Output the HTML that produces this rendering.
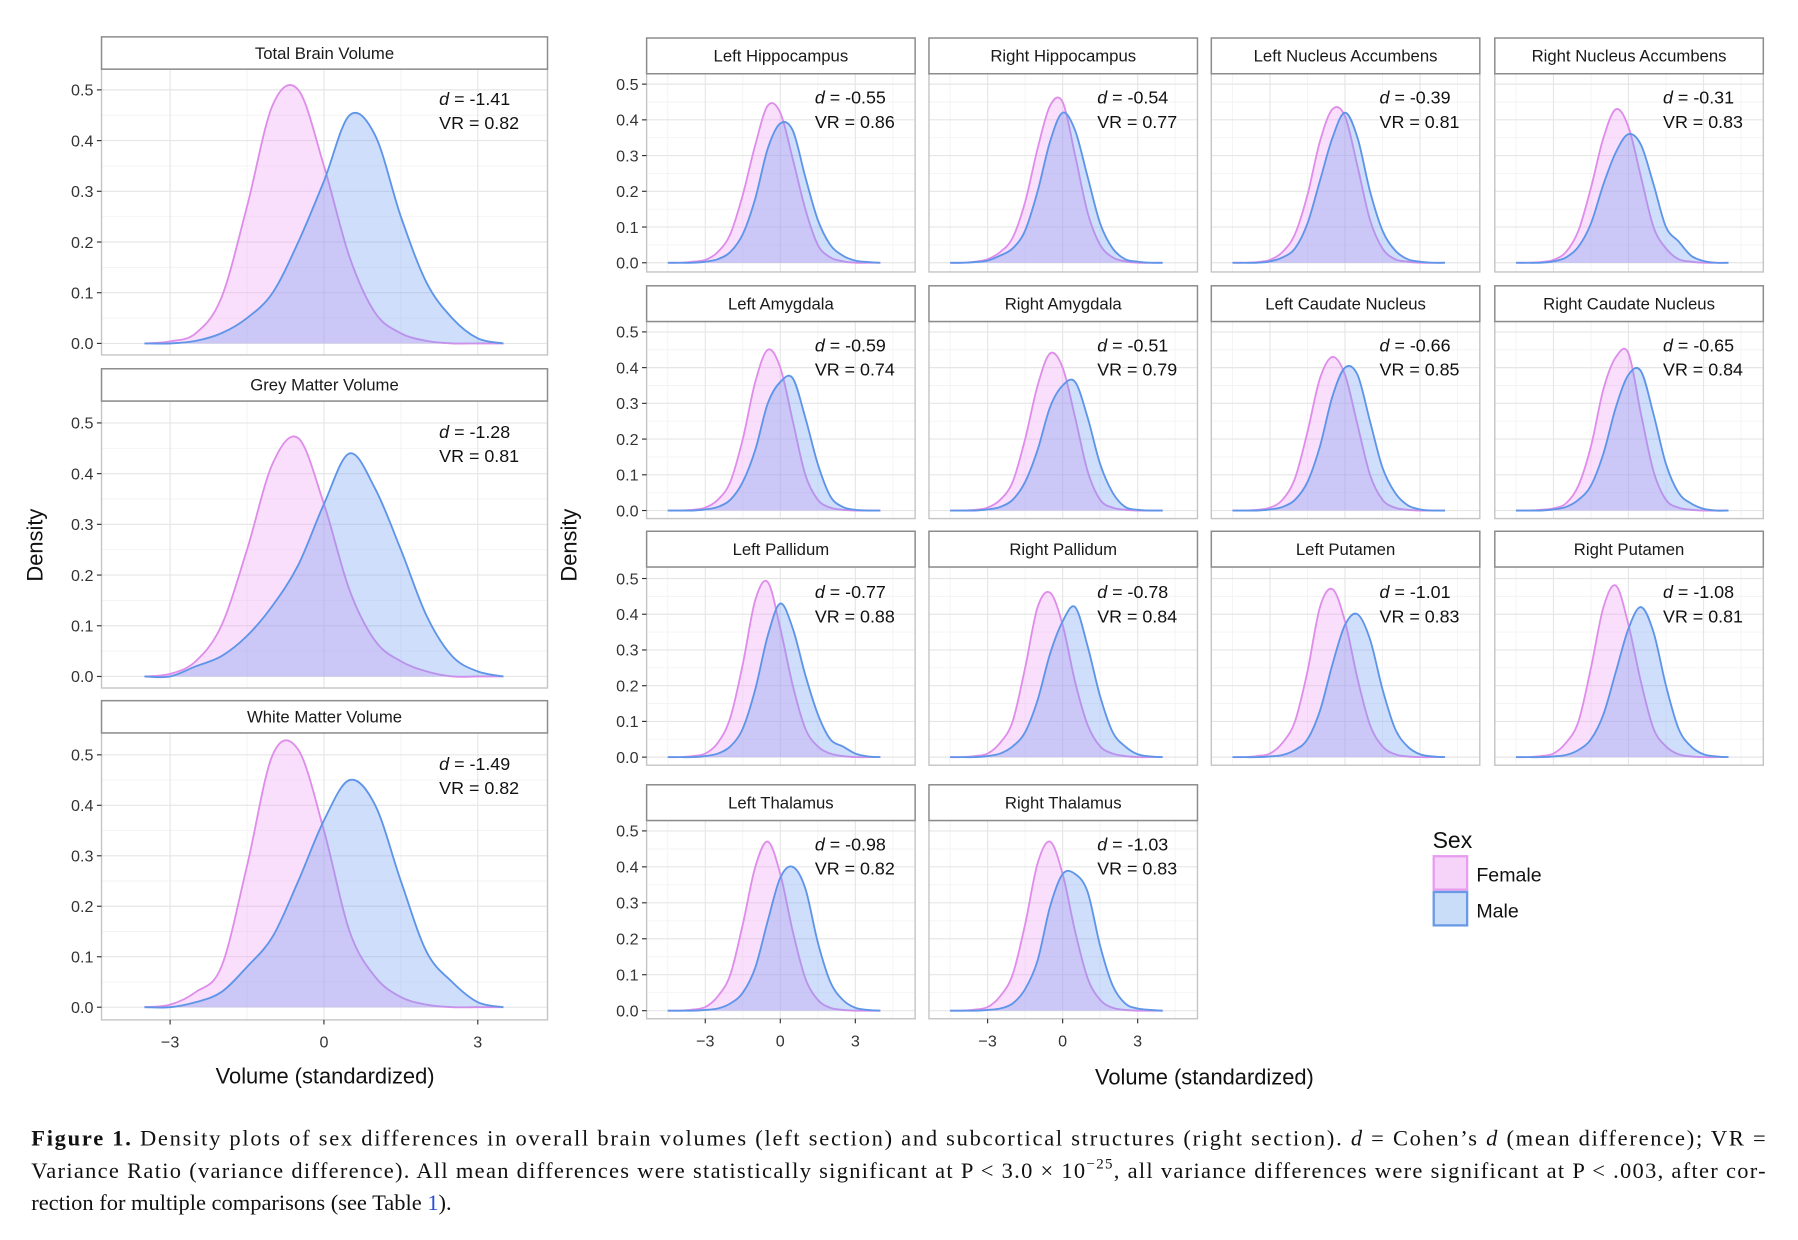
<!DOCTYPE html>
<html><head><meta charset="utf-8">
<style>
html,body{margin:0;padding:0;background:#fff;}
svg{display:block;}
.strip{font-family:"Liberation Sans",sans-serif;font-size:14.5px;fill:#1a1a1a;}
.tick{font-family:"Liberation Sans",sans-serif;font-size:14px;fill:#333;}
.ann{font-family:"Liberation Sans",sans-serif;font-size:15.5px;fill:#111;}
.axt{font-family:"Liberation Sans",sans-serif;font-size:19px;fill:#111;}
.cap{font-family:"Liberation Serif",serif;font-size:19.5px;fill:#111;}
</style></head>
<body>
<svg id="fig" width="1798" height="1240" viewBox="0 0 1560 1076" xmlns="http://www.w3.org/2000/svg">
<g id="panels"></g>
<text class="axt" x="37" y="473" text-anchor="middle" transform="rotate(-90 37 473)">Density</text>
<text class="axt" x="500" y="473" text-anchor="middle" transform="rotate(-90 500 473)">Density</text>
<text class="axt" x="282" y="940" text-anchor="middle">Volume (standardized)</text>
<text class="axt" x="1045" y="941" text-anchor="middle">Volume (standardized)</text>
<g>
<text x="1243" y="736" style="font-family:'Liberation Sans',sans-serif;font-size:20px;fill:#111">Sex</text>
<rect x="1244" y="743" width="29" height="29" fill="#f6d3f8" stroke="#e79cef" stroke-width="2"/>
<rect x="1244" y="774" width="29" height="29" fill="#c9dcf8" stroke="#6a9ae6" stroke-width="2"/>
<text x="1281" y="765" style="font-family:'Liberation Sans',sans-serif;font-size:17px;fill:#111">Female</text>
<text x="1281" y="796" style="font-family:'Liberation Sans',sans-serif;font-size:17px;fill:#111">Male</text>
</g>
<g>
<text class="cap" x="27" y="994" textLength="1505" lengthAdjust="spacing"><tspan font-weight="bold">Figure 1.</tspan> Density plots of sex differences in overall brain volumes (left section) and subcortical structures (right section). <tspan font-style="italic">d</tspan> = Cohen’s <tspan font-style="italic">d</tspan> (mean difference); VR =</text>
<text class="cap" x="27" y="1022" textLength="1505" lengthAdjust="spacing">Variance Ratio (variance difference). All mean differences were statistically significant at P &lt; 3.0 × 10<tspan dy="-8" font-size="13">−25</tspan><tspan dy="8">, all variance differences were significant at P &lt; .003, after cor-</tspan></text>
<text class="cap" x="27" y="1050">rection for multiple comparisons (see Table <tspan fill="#2a4fd6">1</tspan>).</text>
</g>
</svg>
<script>
// ---- data ----
const xsLeft = [-3.5,-3,-2.5,-2,-1.5,-1,-0.5,0,0.5,1,1.5,2,2.5,3,3.5];
const xsRight = [-4.5,-4,-3.5,-3,-2.5,-2,-1.5,-1,-0.5,0,0.5,1,1.5,2,2.5,3,3.5,4];
const xTicks = [-3,0,3];
const yTicks = [0,0.1,0.2,0.3,0.4,0.5];
const yTickLabels = ["0.0","0.1","0.2","0.3","0.4","0.5"];
const leftTitles = ["Total Brain Volume","Grey Matter Volume","White Matter Volume"];
const leftD = ["-1.41","-1.28","-1.49"];
const leftVR = ["0.82","0.81","0.82"];
const leftFemale = [
 [0,0.004,0.02,0.09,0.27,0.47,0.50,0.35,0.17,0.06,0.02,0.005,0,0,0],
 [0,0.005,0.03,0.10,0.25,0.42,0.47,0.34,0.17,0.07,0.03,0.01,0,0,0],
 [0,0.005,0.03,0.08,0.28,0.50,0.51,0.35,0.15,0.06,0.02,0.005,0,0,0]];
const leftMale = [
 [0,0,0.005,0.02,0.05,0.10,0.20,0.32,0.45,0.41,0.25,0.12,0.05,0.01,0],
 [0,0,0.02,0.04,0.08,0.14,0.22,0.34,0.44,0.37,0.25,0.12,0.04,0.01,0],
 [0,0,0.01,0.03,0.08,0.14,0.25,0.37,0.45,0.40,0.25,0.11,0.05,0.01,0]];
const rightTitles = ["Left Hippocampus","Right Hippocampus","Left Nucleus Accumbens","Right Nucleus Accumbens",
 "Left Amygdala","Right Amygdala","Left Caudate Nucleus","Right Caudate Nucleus",
 "Left Pallidum","Right Pallidum","Left Putamen","Right Putamen","Left Thalamus","Right Thalamus"];
const rightD = ["-0.55","-0.54","-0.39","-0.31","-0.59","-0.51","-0.66","-0.65","-0.77","-0.78","-1.01","-1.08","-0.98","-1.03"];
const rightVR = ["0.86","0.77","0.81","0.83","0.74","0.79","0.85","0.84","0.88","0.84","0.83","0.81","0.82","0.83"];
const rightFemale = [
 [0,0,0.003,0.008,0.03,0.08,0.19,0.33,0.44,0.42,0.29,0.15,0.05,0.015,0.004,0,0,0],
 [0,0,0.003,0.01,0.03,0.07,0.17,0.32,0.44,0.45,0.30,0.14,0.05,0.015,0.004,0,0,0],
 [0,0,0.002,0.008,0.03,0.08,0.19,0.34,0.43,0.41,0.27,0.12,0.04,0.01,0.003,0,0,0],
 [0,0,0.002,0.008,0.03,0.09,0.21,0.35,0.43,0.38,0.24,0.10,0.04,0.01,0.003,0,0,0],
 [0,0,0.002,0.008,0.03,0.08,0.20,0.36,0.45,0.40,0.25,0.10,0.03,0.008,0.002,0,0,0],
 [0,0,0.002,0.008,0.03,0.08,0.20,0.35,0.44,0.40,0.26,0.11,0.03,0.008,0.002,0,0,0],
 [0,0,0.002,0.008,0.03,0.09,0.22,0.37,0.43,0.38,0.24,0.10,0.03,0.008,0.002,0,0,0],
 [0,0,0.002,0.006,0.02,0.07,0.18,0.34,0.43,0.44,0.27,0.11,0.03,0.008,0.002,0,0,0],
 [0,0,0.003,0.01,0.04,0.11,0.26,0.44,0.49,0.36,0.20,0.08,0.03,0.01,0.003,0,0,0],
 [0,0,0.003,0.01,0.04,0.10,0.25,0.42,0.46,0.37,0.21,0.09,0.03,0.01,0.003,0,0,0],
 [0,0,0.003,0.01,0.04,0.10,0.24,0.42,0.47,0.38,0.22,0.09,0.03,0.008,0.002,0,0,0],
 [0,0,0.003,0.01,0.04,0.10,0.25,0.42,0.48,0.37,0.21,0.08,0.03,0.008,0.002,0,0,0],
 [0,0,0.003,0.01,0.04,0.10,0.24,0.40,0.47,0.38,0.22,0.09,0.03,0.008,0.002,0,0,0],
 [0,0,0.003,0.01,0.04,0.10,0.24,0.41,0.47,0.38,0.22,0.09,0.03,0.008,0.002,0,0,0]];
const rightMale = [
 [0,0,0,0.003,0.01,0.03,0.08,0.18,0.32,0.39,0.37,0.24,0.12,0.05,0.02,0.006,0.002,0],
 [0,0,0.002,0.006,0.02,0.04,0.09,0.20,0.34,0.42,0.37,0.24,0.11,0.04,0.01,0.003,0,0],
 [0,0,0,0.004,0.015,0.04,0.11,0.23,0.35,0.42,0.35,0.20,0.09,0.035,0.01,0.003,0,0],
 [0,0,0,0.004,0.015,0.045,0.11,0.22,0.31,0.36,0.33,0.22,0.10,0.06,0.02,0.005,0,0],
 [0,0,0,0.003,0.01,0.03,0.08,0.17,0.30,0.36,0.37,0.26,0.13,0.04,0.01,0.002,0,0],
 [0,0,0,0.003,0.01,0.03,0.08,0.17,0.29,0.35,0.36,0.26,0.13,0.05,0.01,0.002,0,0],
 [0,0,0,0.003,0.01,0.03,0.08,0.18,0.32,0.40,0.38,0.25,0.12,0.05,0.015,0.003,0,0],
 [0,0,0,0.003,0.01,0.03,0.07,0.16,0.29,0.38,0.39,0.27,0.13,0.05,0.02,0.005,0,0],
 [0,0,0,0.003,0.01,0.03,0.08,0.19,0.34,0.43,0.36,0.23,0.12,0.05,0.03,0.01,0.002,0],
 [0,0,0,0.003,0.01,0.03,0.07,0.16,0.29,0.38,0.42,0.31,0.17,0.07,0.03,0.008,0.002,0],
 [0,0,0,0.002,0.006,0.02,0.05,0.13,0.26,0.37,0.40,0.33,0.19,0.08,0.03,0.008,0.002,0],
 [0,0,0,0.002,0.006,0.02,0.05,0.12,0.24,0.36,0.42,0.35,0.20,0.08,0.03,0.008,0.002,0],
 [0,0,0,0.002,0.006,0.02,0.05,0.12,0.25,0.37,0.40,0.34,0.19,0.08,0.03,0.008,0.002,0],
 [0,0,0,0.002,0.006,0.02,0.06,0.14,0.29,0.38,0.38,0.33,0.18,0.07,0.02,0.006,0.002,0]];

// ---- drawing ----
const NS = "http://www.w3.org/2000/svg";
const root = document.getElementById('panels');
function mk(tag, attrs, parent){const e=document.createElementNS(NS,tag);for(const k in attrs)e.setAttribute(k,attrs[k]);(parent||root).appendChild(e);return e;}
function smoothPath(pts){
  let d="M"+pts[0][0].toFixed(2)+","+pts[0][1].toFixed(2);
  for(let i=0;i<pts.length-1;i++){
    const p0=pts[Math.max(0,i-1)],p1=pts[i],p2=pts[i+1],p3=pts[Math.min(pts.length-1,i+2)];
    const c1x=p1[0]+(p2[0]-p0[0])/6,c1y=p1[1]+(p2[1]-p0[1])/6;
    const c2x=p2[0]-(p3[0]-p1[0])/6,c2y=p2[1]-(p3[1]-p1[1])/6;
    d+=" C"+c1x.toFixed(2)+","+Math.min(c1y,999).toFixed(2)+" "+c2x.toFixed(2)+","+c2y.toFixed(2)+" "+p2[0].toFixed(2)+","+p2[1].toFixed(2);
  }
  return d;
}
function panel(o){
  // o: left, stripTop, stripH, panelBottom, zeroX, unitX, y0, y05, title, xs, fem, male, d, vr, annX, showX, showY, idx
  const g=mk('g',{});
  
  
  const top=o.stripTop+o.stripH, w=o.width;
  const sx=v=>o.zeroX+v*o.unitX;
  const sy=v=>o.y0-(v/0.5)*(o.y0-o.y05);
  mk('rect',{x:o.left,y:top,width:w,height:o.panelBottom-top,fill:'#fff',stroke:'none'},g);
  // grid
  const clip='clip-'+o.slug;
  const cp=mk('clipPath',{id:clip},g);mk('rect',{x:o.left,y:top,width:w,height:o.panelBottom-top},cp);
  const gg=mk('g',{'clip-path':'url(#'+clip+')'},g);
  for(let v=0.05;v<0.56;v+=0.1)mk('line',{x1:o.left,x2:o.left+w,y1:sy(v),y2:sy(v),stroke:'#f3f3f3','stroke-width':0.8},gg);
  [-4.5,-1.5,1.5,4.5].forEach(v=>mk('line',{x1:sx(v),x2:sx(v),y1:top,y2:o.panelBottom,stroke:'#f3f3f3','stroke-width':0.8},gg));
  yTicks.forEach(v=>mk('line',{x1:o.left,x2:o.left+w,y1:sy(v),y2:sy(v),stroke:'#e6e6e6','stroke-width':1},gg));
  xTicks.forEach(v=>mk('line',{x1:sx(v),x2:sx(v),y1:top,y2:o.panelBottom,stroke:'#e6e6e6','stroke-width':1},gg));
  // series
  [[o.fem,'rgba(238,150,245,0.30)','#de8eea','female'],[o.male,'rgba(110,155,240,0.33)','#5e95e8','male']].forEach(s=>{
    const pts=o.xs.map((x,i)=>[sx(x),sy(s[0][i])]);
    const line=smoothPath(pts);
    const area=mk('path',{d:line+" L"+pts[pts.length-1][0]+","+sy(0)+" L"+pts[0][0]+","+sy(0)+" Z",fill:s[1],stroke:'none'},gg);
    
    
    const ln=mk('path',{d:line,fill:'none',stroke:s[2],'stroke-width':1.6},gg);
    
    
  });
  mk('rect',{x:o.left,y:top,width:w,height:o.panelBottom-top,fill:'none',stroke:'#c4c4c4','stroke-width':1.2},g);
  // strip
  const st=mk('rect',{x:o.left,y:o.stripTop,width:w,height:o.stripH,fill:'#fff',stroke:'#8c8c8c','stroke-width':1.3},g);
  
  
  const tt=mk('text',{class:'strip',x:o.left+w/2,y:o.stripTop+o.stripH/2+5,'text-anchor':'middle'},g);
  tt.textContent=o.title;
  
  
  // annotation
  const a1=mk('text',{class:'ann',x:o.annX,y:o.annY},g);
  a1.innerHTML='<tspan font-style="italic">d</tspan> = '+o.d;
  
  
  const a2=mk('text',{class:'ann',x:o.annX,y:o.annY+21},g);
  a2.textContent='VR = '+o.vr;
  
  
  if(o.showY){
    yTicks.forEach((v,i)=>{
      mk('line',{x1:o.left-4,x2:o.left,y1:sy(v),y2:sy(v),stroke:'#333','stroke-width':1},g);
      const t=mk('text',{class:'tick',x:o.left-7,y:sy(v)+5,'text-anchor':'end'},g);
      t.textContent=yTickLabels[i];
      
      
    });
  }
  if(o.showX){
    xTicks.forEach(v=>{
      mk('line',{x1:sx(v),x2:sx(v),y1:o.panelBottom,y2:o.panelBottom+4,stroke:'#333','stroke-width':1},g);
      const t=mk('text',{class:'tick',x:sx(v),y:o.panelBottom+24,'text-anchor':'middle'},g);
      t.textContent=(v<0?'−':'')+Math.abs(v);
      
      
    });
  }
}
const slug=s=>s.toLowerCase().replace(/\s+/g,'-');
const leftRows=[{st:32,y05:78,y0:298,pb:308},{st:320,y05:367,y0:587,pb:597},{st:608,y05:655,y0:874,pb:885}];
leftRows.forEach((r,i)=>panel({slug:slug(leftTitles[i]),left:88,width:387,stripTop:r.st,stripH:28,panelBottom:r.pb,zeroX:281,unitX:44.5,y0:r.y0,y05:r.y05,
  title:leftTitles[i],xs:xsLeft,fem:leftFemale[i],male:leftMale[i],d:leftD[i],vr:leftVR[i],annX:381,annY:r.y05+13,showX:i==2,showY:true}));
const colL=[561,806,1051,1297];
const rRows=[{st:33,y05:73,y0:228,pb:236},{st:248,y05:288,y0:443,pb:450},{st:461,y05:502,y0:657,pb:664},{st:681,y05:721,y0:877,pb:884}];
rightTitles.forEach((t,k)=>{
  const r=rRows[Math.floor(k/4)],c=k%4,L=colL[c];
  panel({slug:slug(t),left:L,width:233,stripTop:r.st,stripH:31,panelBottom:r.pb,zeroX:L+116,unitX:21.7,y0:r.y0,y05:r.y05,
   title:t,xs:xsRight,fem:rightFemale[k],male:rightMale[k],d:rightD[k],vr:rightVR[k],annX:L+146,annY:r.y05+17,
   showX:k>=12,showY:c==0});
});
</script>
</body></html>
